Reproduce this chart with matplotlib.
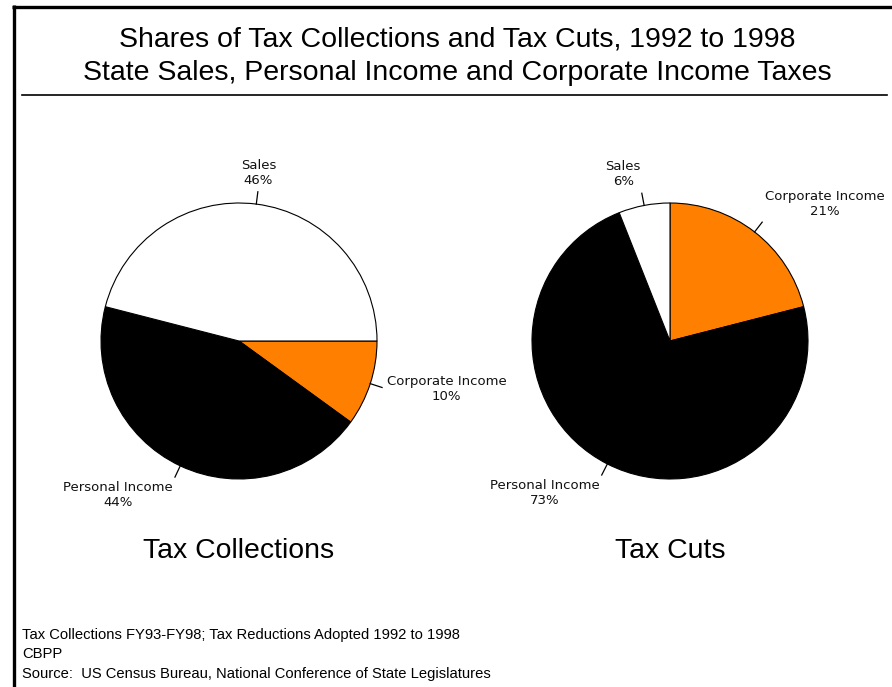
import numpy as np
import matplotlib
matplotlib.use("Agg")
import matplotlib.pyplot as plt

# data
categories_left = ["Corporate Income", "Personal Income", "Sales"]
shares_left = [10, 44, 46]
categories_right = ["Corporate Income", "Personal Income", "Sales"]
shares_right = [21, 73, 6]
colors = ["#FF8000", "#000000", "#FFFFFF"]

title_lines = [
    "Shares of Tax Collections and Tax Cuts, 1992 to 1998",
    "State Sales, Personal Income and Corporate Income Taxes",
]
footnotes = [
    "Tax Collections FY93-FY98; Tax Reductions Adopted 1992 to 1998",
    "CBPP",
    "Source:  US Census Bureau, National Conference of State Legislatures",
]

W, H = 892, 687
R = 138  # pie radius in pixels


def add_pie(fig, cx, cy, values, labels, startangle, caption):
    pad = 1.6
    ax = fig.add_axes([(cx - pad * R) / W, 1 - (cy + pad * R) / H,
                       2 * pad * R / W, 2 * pad * R / H])
    wedges, _ = ax.pie(values, colors=colors, startangle=startangle,
                       counterclock=False, radius=1,
                       wedgeprops=dict(edgecolor="black", linewidth=0.8))
    ax.set_xlim(-pad, pad)
    ax.set_ylim(-pad, pad)
    ax.set_aspect("equal")
    ax.axis("off")

    for w, lab, v in zip(wedges, labels, values):
        ang = np.deg2rad((w.theta1 + w.theta2) / 2)
        c, s = np.cos(ang), np.sin(ang)
        ax.plot([c, 1.09 * c], [s, 1.09 * s], color="black", lw=0.9,
                clip_on=False)
        ha = "left" if c > 0.15 else ("right" if c < -0.15 else "center")
        va = "bottom" if s > 0.5 else ("top" if s < -0.5 else "center")
        ax.text(1.125 * c, 1.125 * s, f"{lab}\n{v}%", ha=ha, va=va,
                multialignment="center", fontsize=9.5,
                family="DejaVu Sans", color="#111111")

    ax.text(0, -1.52, caption, ha="center", va="center", fontsize=20.4,
            family="Liberation Sans")


def main():
    fig = plt.figure(figsize=(W / 100, H / 100), dpi=100)
    bg = fig.add_axes([0, 0, 1, 1])
    bg.set_xlim(0, W)
    bg.set_ylim(H, 0)
    bg.axis("off")

    # frame lines
    bg.plot([12, W], [6.5, 6.5], color="black", lw=2.4, solid_capstyle="butt")
    bg.plot([13.5, 13.5], [5, H], color="black", lw=2.4, solid_capstyle="butt")
    bg.plot([22, 887], [95, 95], color="black", lw=1.2)

    bg.text(457, 40, title_lines[0], ha="center", va="center", fontsize=20.5,
            family="Liberation Sans")
    bg.text(457, 73, title_lines[1], ha="center", va="center", fontsize=20.5,
            family="Liberation Sans")

    for i, line in enumerate(footnotes):
        bg.text(22, 635 + i * 19.5, line, ha="left", va="center",
                fontsize=10.6, family="Liberation Sans")

    add_pie(fig, 239, 341, shares_left, categories_left, 0, "Tax Collections")
    add_pie(fig, 670, 341, shares_right, categories_right, 90, "Tax Cuts")

    fig.savefig("out.png", dpi=100)


if __name__ == "__main__":
    main()
